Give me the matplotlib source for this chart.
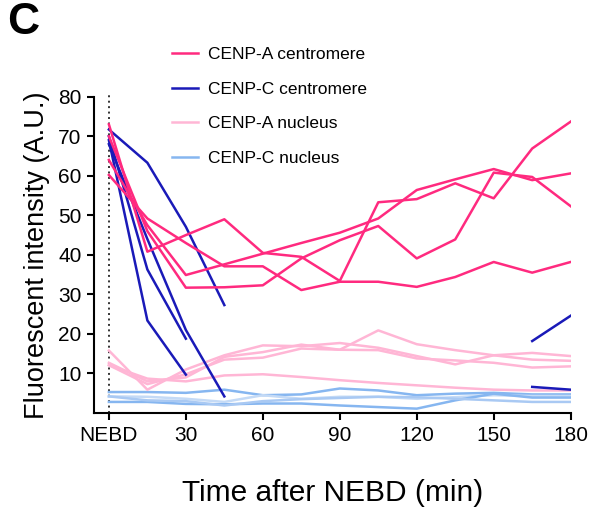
import numpy as np
import matplotlib
matplotlib.use("Agg")
import matplotlib.pyplot as plt

plt.rcParams['font.family'] = ['Liberation Sans', 'DejaVu Sans']

nan = np.nan
time = [0, 15, 30, 45, 60, 75, 90, 105, 120, 135, 150, 165, 180]
x_ticks = [0, 30, 60, 90, 120, 150, 180]
x_tick_labels = ["NEBD", "30", "60", "90", "120", "150", "180"]
y_ticks = [10, 20, 30, 40, 50, 60, 70, 80]

cenpa_centromere = [
    [73.0, 40.8, 45.0, 49.0, 40.5, 39.5, 33.4, 53.3, 54.1, 58.1, 54.3, 66.9, 73.7],
    [70.0, 46.0, 31.7, 31.8, 32.3, 39.1, 43.7, 47.3, 39.1, 43.9, 60.8, 59.7, 52.3],
    [64.0, 47.5, 34.9, 37.6, 40.3, 43.0, 45.6, 49.2, 56.4, 59.1, 61.7, 58.9, 60.6],
    [60.2, 49.2, 43.0, 37.1, 37.1, 31.1, 33.2, 33.2, 31.9, 34.4, 38.2, 35.5, 38.2],
]
cenpc_centromere = [
    [71.7, 63.3, 47.1, 27.3, nan, nan, nan, nan, nan, nan, nan, 18.2, 24.6],
    [70.0, 36.3, 18.8, nan, nan, nan, nan, nan, nan, nan, nan, nan, nan],
    [69.0, 23.4, 9.7, nan, nan, nan, nan, nan, nan, nan, nan, nan, nan],
    [68.0, 44.0, 21.0, 4.2, nan, nan, nan, nan, nan, nan, nan, 6.6, 5.9],
]
cenpa_nucleus = [
    [12.7, 8.0, 9.0, 14.2, 15.4, 17.3, 16.0, 20.9, 17.4, 15.9, 14.6, 15.2, 14.4],
    [15.8, 5.9, 11.0, 14.6, 17.1, 16.9, 17.7, 16.5, 14.4, 12.3, 14.6, 13.5, 13.2],
    [12.1, 7.3, 9.8, 13.5, 14.0, 16.3, 16.0, 15.9, 13.8, 13.3, 12.7, 11.5, 11.8],
    [12.1, 8.7, 8.0, 9.5, 9.8, 9.1, 8.3, 7.6, 7.0, 6.4, 5.9, 5.7, 5.7],
]
cenpc_nucleus = [
    [5.3, 5.3, 5.1, 5.9, 4.5, 4.7, 6.2, 5.7, 4.5, 4.9, 5.1, 4.7, 4.7],
    [4.2, 4.1, 3.6, 2.8, 4.5, 3.6, 4.1, 4.1, 3.6, 4.0, 4.5, 4.3, 4.3],
    [2.8, 2.8, 2.3, 2.2, 2.4, 2.4, 1.9, 1.5, 1.1, 3.2, 4.9, 3.9, 3.9],
    [4.2, 3.2, 3.0, 1.9, 3.0, 3.5, 3.8, 4.1, 4.0, 3.6, 3.2, 2.8, 2.8],
]

col_a_cen = '#FF2A7F'
col_c_cen = '#1A1AB8'
col_a_nuc = '#FFB6D5'
col_c_nuc = ['#86B6F0', '#C4DAF6', '#86B6F0', '#A9C9F3']

fig = plt.figure(figsize=(5.92, 5.09), dpi=100)
ax = fig.add_axes([0.1588, 0.1886, 0.964 - 0.1588, 0.810 - 0.1886])

lw = 1.8
for i, s in enumerate(cenpc_nucleus):
    ax.plot(time, s, color=col_c_nuc[i], lw=lw, zorder=2)
for s in cenpa_nucleus:
    ax.plot(time, s, color=col_a_nuc, lw=lw, zorder=2)
for s in cenpc_centromere:
    ax.plot(time, s, color=col_c_cen, lw=lw, zorder=3)
for s in cenpa_centromere:
    ax.plot(time, s, color=col_a_cen, lw=lw, zorder=3)

ax.plot([0, 0], [0, 81], color='#333333', lw=1.4, ls=(0, (1, 1.8)), zorder=1, clip_on=False)

ax.set_xlim(-5.8, 180)
ax.set_ylim(0, 80)
ax.set_xticks(x_ticks)
ax.set_xticklabels(x_tick_labels)
ax.set_yticks(y_ticks)
ax.tick_params(axis='both', direction='out', length=5, width=1.5, labelsize=15, colors='black', pad=4)
for side in ['top', 'right']:
    ax.spines[side].set_visible(False)
for side in ['left', 'bottom']:
    ax.spines[side].set_linewidth(1.5)

ax.set_ylabel("Fluorescent intensity (A.U.)", fontsize=19.5, labelpad=6)
ax.set_xlabel("Time after NEBD (min)", fontsize=21.5, labelpad=25)

handles = [
    plt.Line2D([], [], color=col_a_cen, lw=lw),
    plt.Line2D([], [], color=col_c_cen, lw=lw),
    plt.Line2D([], [], color=col_a_nuc, lw=lw),
    plt.Line2D([], [], color=col_c_nuc[0], lw=lw),
]
labels = ["CENP-A centromere", "CENP-C centromere", "CENP-A nucleus", "CENP-C nucleus"]
fig.legend(handles, labels, loc='upper left', bbox_to_anchor=(172 / 592, 1 - 47 / 509),
           frameon=False, fontsize=12.5, handlelength=1.5, handletextpad=0.6,
           labelspacing=1.12, borderpad=0, borderaxespad=0)

fig.text(7 / 592, 1 - 2 / 509, "C", fontsize=32, fontweight='bold', va='top', ha='left')

fig.savefig("out.png", dpi=100)
